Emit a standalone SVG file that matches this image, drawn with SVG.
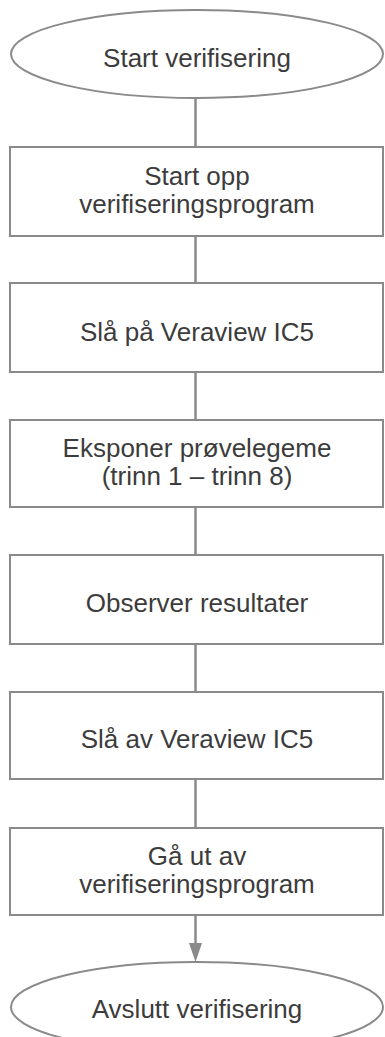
<svg xmlns="http://www.w3.org/2000/svg" width="385" height="1037" viewBox="0 0 385 1037">
  <style>
    .shape { fill: #ffffff; stroke: #8a8a8a; stroke-width: 2; }
    .label { font-family: "Liberation Sans", Arial, sans-serif; font-size: 26px; fill: #3c3c3c; text-anchor: middle; }
    .link { fill: none; stroke: #8a8a8a; stroke-width: 2.5; }
  </style>
  <defs>
    <marker id="arrow" viewBox="0 0 12 20" refX="12" refY="6" markerWidth="12" markerHeight="20" markerUnits="userSpaceOnUse" orient="auto">
      <path d="M0,0 L20,6 L0,12 Z" fill="#8a8a8a"/>
    </marker>
  </defs>
  <rect width="385" height="1037" fill="#ffffff"/>

  <g id="connectors">
    <line class="link" x1="195.5" y1="98" x2="195.5" y2="147"/>
    <line class="link" x1="195.5" y1="236" x2="195.5" y2="283"/>
    <line class="link" x1="195.5" y1="372" x2="195.5" y2="420"/>
    <line class="link" x1="195.5" y1="507" x2="195.5" y2="555"/>
    <line class="link" x1="195.5" y1="644" x2="195.5" y2="692"/>
    <line class="link" x1="195.5" y1="779" x2="195.5" y2="828"/>
    <line class="link" x1="195.5" y1="915" x2="195.5" y2="944"/>
    <path d="M189,943 L202,943 L195.5,962 Z" fill="#8a8a8a"/>
  </g>

  <g id="start">
    <ellipse class="shape" cx="197" cy="54" rx="186" ry="44"/>
    <text class="label" x="197" y="67">Start verifisering</text>
  </g>

  <g id="step1">
    <rect class="shape" x="10" y="147" width="373" height="89"/>
    <text class="label" x="197" y="185">Start opp</text>
    <text class="label" x="197" y="213">verifiseringsprogram</text>
  </g>

  <g id="step2">
    <rect class="shape" x="10" y="283" width="373" height="89"/>
    <text class="label" x="197" y="341">Slå på Veraview IC5</text>
  </g>

  <g id="step3">
    <rect class="shape" x="10" y="420" width="373" height="87"/>
    <text class="label" x="197" y="457">Eksponer prøvelegeme</text>
    <text class="label" x="197" y="485">(trinn 1 – trinn 8)</text>
  </g>

  <g id="step4">
    <rect class="shape" x="10" y="555" width="373" height="89"/>
    <text class="label" x="197" y="612">Observer resultater</text>
  </g>

  <g id="step5">
    <rect class="shape" x="10" y="692" width="373" height="87"/>
    <text class="label" x="197" y="748">Slå av Veraview IC5</text>
  </g>

  <g id="step6">
    <rect class="shape" x="10" y="828" width="373" height="87"/>
    <text class="label" x="197" y="865">Gå ut av</text>
    <text class="label" x="197" y="893">verifiseringsprogram</text>
  </g>

  <g id="end">
    <ellipse class="shape" cx="197" cy="1007" rx="186" ry="45"/>
    <text class="label" x="197" y="1018">Avslutt verifisering</text>
  </g>
</svg>
